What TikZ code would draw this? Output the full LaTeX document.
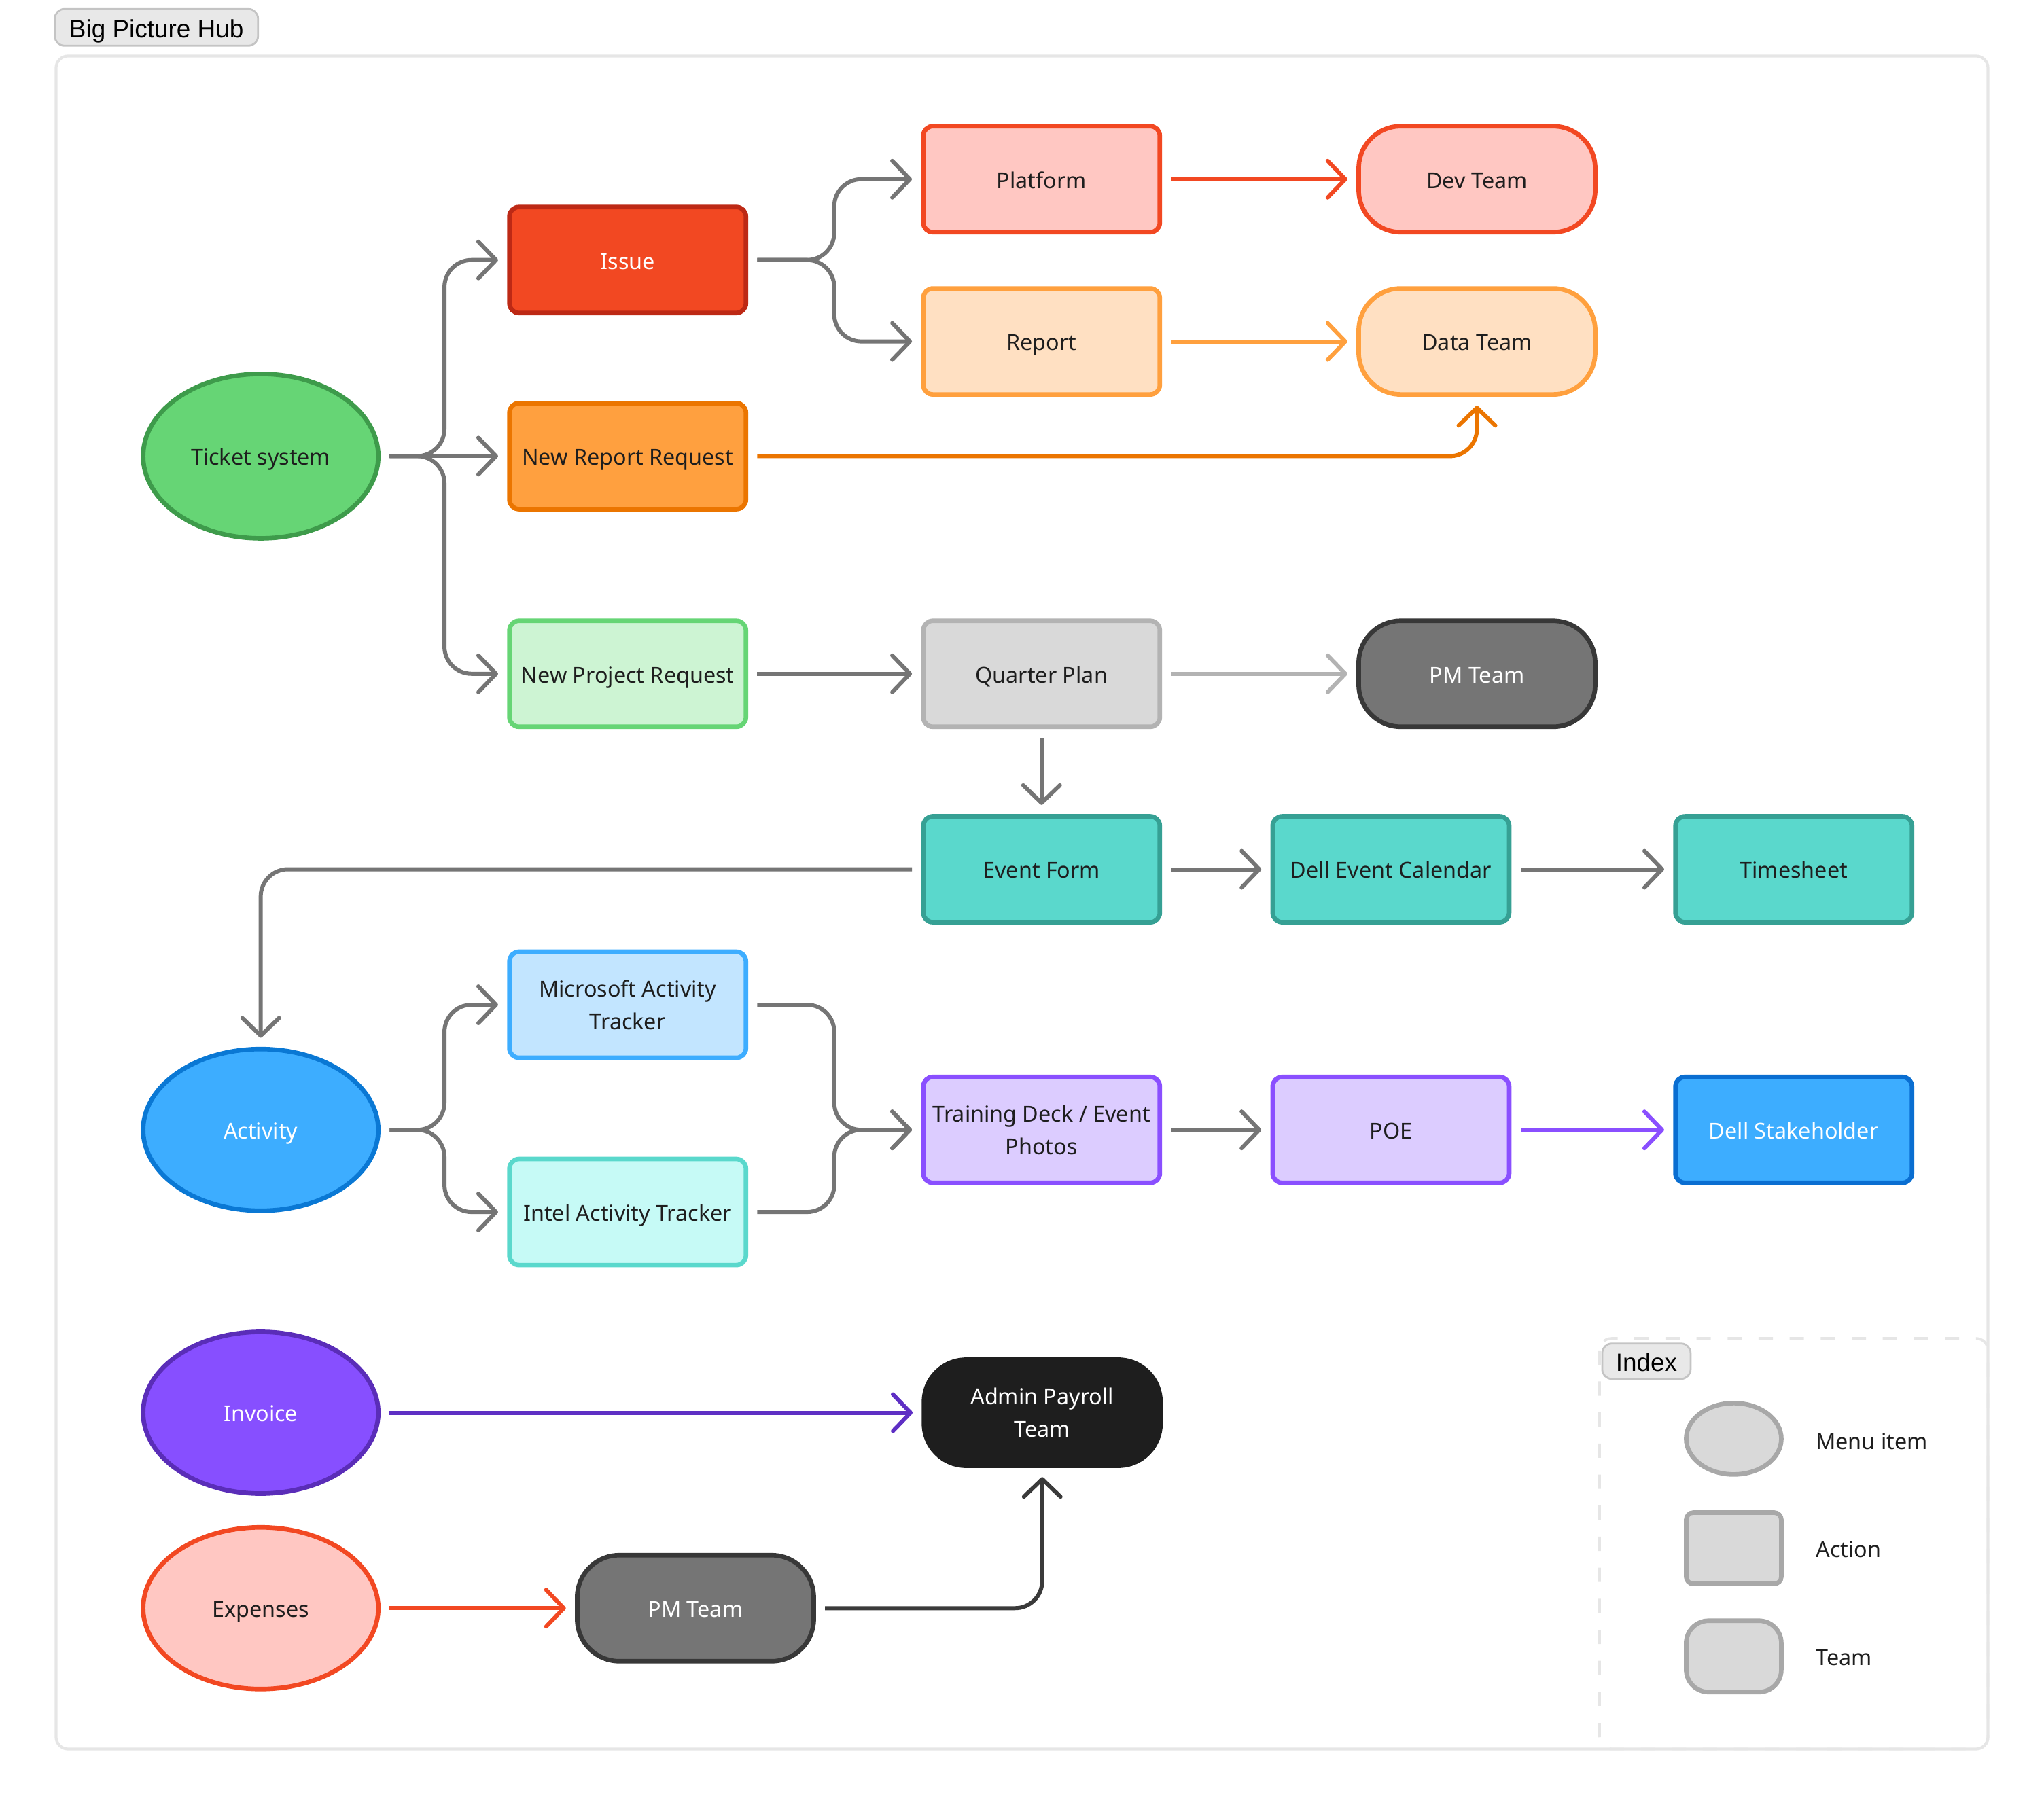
\documentclass[tikz,border=0pt]{standalone}
\usepackage{fontspec}
\setmainfont{Noto Sans}
\newfontfamily\tagfont{Liberation Sans}
\usetikzlibrary{arrows.meta,shapes.geometric,calc}
\definecolor{txt}{HTML}{1E1E1E}
\definecolor{ticketF}{HTML}{66D575}
\definecolor{ticketB}{HTML}{3E9B4B}
\definecolor{issueF}{HTML}{F24822}
\definecolor{issueB}{HTML}{BD2915}
\definecolor{nrrF}{HTML}{FFA03F}
\definecolor{nrrB}{HTML}{EB7500}
\definecolor{nprF}{HTML}{CDF4D3}
\definecolor{nprB}{HTML}{66D575}
\definecolor{platF}{HTML}{FFC7C2}
\definecolor{platB}{HTML}{F24822}
\definecolor{repF}{HTML}{FFE0C2}
\definecolor{repB}{HTML}{FFA03E}
\definecolor{qpF}{HTML}{D9D9D9}
\definecolor{qpB}{HTML}{B3B3B3}
\definecolor{pmF}{HTML}{757575}
\definecolor{pmB}{HTML}{383838}
\definecolor{tealF}{HTML}{5AD8CC}
\definecolor{tealB}{HTML}{36A094}
\definecolor{actF}{HTML}{3DADFF}
\definecolor{actB}{HTML}{0A78D4}
\definecolor{matF}{HTML}{C2E5FF}
\definecolor{matB}{HTML}{3DADFF}
\definecolor{iatF}{HTML}{C6FAF6}
\definecolor{iatB}{HTML}{5AD8CC}
\definecolor{purF}{HTML}{DCCCFF}
\definecolor{purB}{HTML}{8A4FFF}
\definecolor{dsF}{HTML}{3DADFF}
\definecolor{dsB}{HTML}{0A6ED1}
\definecolor{invF}{HTML}{874FFF}
\definecolor{invB}{HTML}{5A2DB8}
\definecolor{invArrow}{HTML}{5E2FC4}
\definecolor{admF}{HTML}{1E1E1E}
\definecolor{darkArrow}{HTML}{3A3A3A}
\definecolor{cgrey}{HTML}{757575}
\definecolor{frameC}{HTML}{E6E6E6}
\definecolor{tagF}{HTML}{E8E8E8}
\definecolor{tagB}{HTML}{C4C4C4}
\definecolor{legF}{HTML}{D9D9D9}
\definecolor{legB}{HTML}{A8A8A8}
\begin{document}
\begin{tikzpicture}[x=0.019184cm, y=-0.019184cm,
  base/.style={draw, line width=1.9pt, font=\fontsize{9.2}{13.6}\selectfont, text=txt, align=center, inner sep=2pt},
  oneline/.style={text height=9.6pt, text depth=2.0pt},
  actionbox/.style={base, rectangle, rounded corners=4pt, minimum width=3.48cm, minimum height=1.56cm},
  teambox/.style={base, rectangle, rounded corners=0.62cm, minimum width=3.48cm, minimum height=1.56cm},
  menubox/.style={base, oneline, ellipse, minimum width=3.46cm, minimum height=2.38cm},
  conn/.style={draw=cgrey, line width=1.7pt, rounded corners=0.4cm, shorten >=3.8pt, shorten <=3.8pt,
    -{Straight Barb[length=2.6mm,width=5.4mm,round]}},
  tagbox/.style={draw=tagB, fill=tagF, line width=0.8pt, rounded corners=4pt, font=\tagfont\fontsize{10.5}{12}\selectfont, text=black, inner sep=0pt, text height=9.8pt, text depth=1.2pt},
  legend/.style={font=\fontsize{9.2}{12}\selectfont, text=txt, anchor=west, inner sep=2pt, text height=9.6pt, text depth=2.0pt}
]
\useasboundingbox (0,0) rectangle (1568,1385);
% frame
\draw[frameC, line width=1.2pt, rounded corners=5pt] (43,43) rectangle (1525,1342);
\node[tagbox, minimum width=2.99cm, minimum height=0.54cm] (title) at (120,21) {Big Picture Hub};
% index box
\draw[frameC, line width=1.1pt, rounded corners=5pt, dash pattern=on 6pt off 7pt] (1227,1027) rectangle (1525,1342);
\node[tagbox, minimum width=1.30cm, minimum height=0.52cm] (idx) at (1263,1044.5) {Index};

% nodes
\node[menubox, fill=ticketF, draw=ticketB, minimum height=2.42cm] (tsys) at (200,350) {Ticket system};
\node[actionbox, oneline, fill=issueF, draw=issueB, text=white] (issue) at (481.5,199.5) {Issue};
\node[actionbox, oneline, fill=nrrF, draw=nrrB] (nrr) at (481.5,350) {New Report Request};
\node[actionbox, oneline, fill=nprF, draw=nprB] (npr) at (481.5,517) {New Project Request};
\node[actionbox, oneline, fill=platF, draw=platB] (plat) at (799,137.5) {Platform};
\node[actionbox, oneline, fill=repF, draw=repB] (rep) at (799,262) {Report};
\node[teambox, oneline, fill=platF, draw=platB] (dev) at (1133,137.5) {Dev Team};
\node[teambox, oneline, fill=repF, draw=repB] (data) at (1133,262) {Data Team};
\node[actionbox, oneline, fill=qpF, draw=qpB] (qp) at (799,517) {Quarter Plan};
\node[teambox, oneline, fill=pmF, draw=pmB, text=white] (pm1) at (1133,517) {PM Team};
\node[actionbox, oneline, fill=tealF, draw=tealB] (ef) at (799,667) {Event Form};
\node[actionbox, oneline, fill=tealF, draw=tealB] (dec) at (1067,667) {Dell Event Calendar};
\node[actionbox, oneline, fill=tealF, draw=tealB] (tsheet) at (1376,667) {Timesheet};
\node[menubox, fill=actF, draw=actB, text=white] (act) at (200,867) {Activity};
\node[actionbox, fill=matF, draw=matB] (mat) at (481.5,771) {Microsoft Activity\\Tracker};
\node[actionbox, oneline, fill=iatF, draw=iatB] (iat) at (481.5,930) {Intel Activity Tracker};
\node[actionbox, fill=purF, draw=purB] (td) at (799,867) {Training Deck / Event\\Photos};
\node[actionbox, oneline, fill=purF, draw=purB] (poe) at (1067,867) {POE};
\node[actionbox, oneline, fill=dsF, draw=dsB, text=white] (ds) at (1376,867) {Dell Stakeholder};
\node[menubox, fill=invF, draw=invB, text=white] (inv) at (200,1084) {Invoice};
\node[menubox, fill=platF, draw=platB] (exp) at (200,1234) {Expenses};
\node[teambox, fill=admF, draw=admF, text=white] (adm) at (799.5,1084) {Admin Payroll\\Team};
\node[teambox, oneline, fill=pmF, draw=pmB, text=white] (pm2) at (533.5,1234) {PM Team};

% connectors
\draw[conn] (tsys.east) -- ++(49,0) |- (issue.west);
\draw[conn] (tsys.east) -- (nrr.west);
\draw[conn] (tsys.east) -- ++(49,0) |- (npr.west);
\draw[conn] (issue.east) -- ++(66,0) |- (plat.west);
\draw[conn] (issue.east) -- ++(66,0) |- (rep.west);
\draw[conn, draw=platB] (plat.east) -- (dev.west);
\draw[conn, draw=repB] (rep.east) -- (data.west);
\draw[conn, draw=nrrB] (nrr.east) -| (data.south);
\draw[conn] (npr.east) -- (qp.west);
\draw[conn, draw=qpB] (qp.east) -- (pm1.west);
\draw[conn] (qp.south) -- (ef.north);
\draw[conn] (ef.west) -| (act.north);
\draw[conn] (ef.east) -- (dec.west);
\draw[conn] (dec.east) -- (tsheet.west);
\draw[conn] (act.east) -- ++(49,0) |- (mat.west);
\draw[conn] (act.east) -- ++(49,0) |- (iat.west);
\draw[conn] (mat.east) -- ++(66,0) |- (td.west);
\draw[conn] (iat.east) -- ++(66,0) |- (td.west);
\draw[conn] (td.east) -- (poe.west);
\draw[conn, draw=purB] (poe.east) -- (ds.west);
\draw[conn, draw=invArrow] (inv.east) -- (adm.west);
\draw[conn, draw=platB] (exp.east) -- (pm2.west);
\draw[conn, draw=darkArrow] (pm2.east) -| (adm.south);

% legend
\node[base, ellipse, fill=legF, draw=legB, minimum width=1.40cm, minimum height=1.05cm] (lm) at (1330,1104) {};
\node[base, rectangle, rounded corners=3pt, fill=legF, draw=legB, minimum width=1.40cm, minimum height=1.05cm] (la) at (1330,1188) {};
\node[base, rectangle, rounded corners=0.33cm, fill=legF, draw=legB, minimum width=1.40cm, minimum height=1.05cm] (lt) at (1330,1271) {};
\node[legend] (lml) at (1389,1105) {Menu item};
\node[legend] (lal) at (1389,1188) {Action};
\node[legend] (ltl) at (1389,1271) {Team};
\end{tikzpicture}
\end{document}
